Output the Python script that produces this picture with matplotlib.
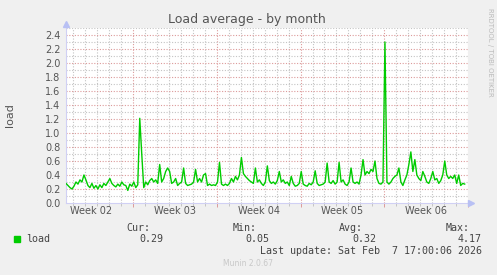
import matplotlib
matplotlib.use("Agg")
import matplotlib.pyplot as plt
from matplotlib.patches import Rectangle
import numpy as np

# load samples, one every 4 hours
load = [0.28, 0.25, 0.22, 0.20, 0.24, 0.30, 0.27, 0.33, 0.30, 0.40,
        0.33, 0.25, 0.22, 0.28, 0.21, 0.25, 0.20, 0.26, 0.22, 0.28,
        0.25, 0.30, 0.35, 0.28, 0.25, 0.23, 0.27, 0.24, 0.30, 0.26,
        0.25, 0.18, 0.27, 0.24, 0.30, 0.22, 0.26, 1.21, 0.70, 0.22,
        0.30, 0.26, 0.32, 0.35, 0.30, 0.33, 0.28, 0.55, 0.30, 0.35,
        0.45, 0.50, 0.45, 0.28, 0.30, 0.35, 0.25, 0.28, 0.30, 0.50,
        0.28, 0.25, 0.26, 0.27, 0.30, 0.48, 0.30, 0.35, 0.30, 0.40,
        0.42, 0.25, 0.27, 0.25, 0.26, 0.25, 0.30, 0.58, 0.27, 0.25,
        0.27, 0.25, 0.28, 0.35, 0.30, 0.38, 0.33, 0.40, 0.65, 0.42,
        0.38, 0.35, 0.32, 0.30, 0.28, 0.50, 0.30, 0.33, 0.28, 0.25,
        0.30, 0.53, 0.32, 0.28, 0.30, 0.27, 0.32, 0.45, 0.30, 0.33,
        0.28, 0.30, 0.25, 0.38, 0.28, 0.24, 0.25, 0.28, 0.45, 0.27,
        0.25, 0.24, 0.28, 0.26, 0.30, 0.46, 0.28, 0.25, 0.26, 0.27,
        0.30, 0.57, 0.30, 0.28, 0.32, 0.27, 0.30, 0.58, 0.30, 0.33,
        0.27, 0.25, 0.30, 0.50, 0.30, 0.28, 0.30, 0.27, 0.40, 0.62,
        0.40, 0.45, 0.42, 0.48, 0.45, 0.60, 0.35, 0.28, 0.27, 0.30,
        2.30, 0.30, 0.27, 0.30, 0.35, 0.38, 0.40, 0.50, 0.30, 0.25,
        0.33, 0.40, 0.55, 0.73, 0.45, 0.62, 0.40, 0.35, 0.32, 0.45,
        0.38, 0.30, 0.28, 0.35, 0.45, 0.33, 0.35, 0.28, 0.32, 0.40,
        0.60, 0.40, 0.35, 0.38, 0.35, 0.40, 0.28, 0.40, 0.25, 0.28,
        0.27]
days = np.arange(len(load)) / 6.0

week_labels = ["Week 02", "Week 03", "Week 04", "Week 05", "Week 06"]
first_week = 5.61   # first week boundary, days from left edge
y_ticks = [0.0, 0.2, 0.4, 0.6, 0.8, 1.0, 1.2, 1.4, 1.6, 1.8, 2.0, 2.2, 2.4]

legend_name = "load"
cur, vmin, avg, vmax = "0.29", "0.05", "0.32", "4.17"
last_update = "Last update: Sat Feb  7 17:00:06 2026"

W, H = 497, 275
fig = plt.figure(figsize=(W / 100, H / 100), dpi=100)
fig.patch.set_facecolor("#F0F0F0")
ax = fig.add_axes([66 / W, 72 / H, 402 / W, 175 / H])
ax.set_facecolor("white")

red = "#DC9A9A"
gray = "#C4C4C4"
axis_col = "#D0D0F4"
dots = (0, (1, 1.5))

ax.set_xlim(0, 33.5)
ax.set_ylim(0, 2.5)

# grid
week_pos = [first_week + 7 * k for k in range(5)]
day_pos = [first_week - 5 + d for d in range(34) if first_week - 5 + d < 33.5]
for d in day_pos:
    if not any(abs(d - w) < 0.01 for w in week_pos):
        ax.axvline(d, color=gray, lw=0.8, ls=dots, zorder=1)
for w in week_pos:
    ax.axvline(w, color=red, lw=0.8, ls=dots, zorder=1)
for v in np.arange(0.1, 2.55, 0.2):
    ax.axhline(v, color=gray, lw=0.8, ls=dots, zorder=1)
for v in y_ticks[1:]:
    ax.axhline(v, color=red, lw=0.8, ls=dots, zorder=1)

ax.plot(days, load, color="#00CC00", lw=1.0, zorder=3)

ax.set_yticks(y_ticks)
ax.set_yticklabels(["%.1f" % v for v in y_ticks], fontsize=7, color="#555555")
ax.tick_params(axis="y", length=0, pad=4)
ax.set_xticks(week_pos)
ax.set_xticklabels([])
ax.set_xticks(day_pos, minor=True)
ax.tick_params(axis="x", which="major", length=3, color=red, width=0.7)
ax.tick_params(axis="x", which="minor", length=2, color=gray, width=0.7)

for i, lab in enumerate(week_labels):
    ax.text(week_pos[i] - 3.5, -0.05, lab, fontsize=7, color="#555555",
            ha="center", va="top")

for s in ["top", "right"]:
    ax.spines[s].set_visible(False)
for s in ["left", "bottom"]:
    ax.spines[s].set_color(axis_col)
    ax.spines[s].set_linewidth(0.8)

# axis arrows
ax.plot([0], [1.025], marker="^", ms=4, color="#B8C0F4", transform=ax.transAxes,
        clip_on=False, zorder=5)
ax.plot([1.008], [0], marker=">", ms=4, color="#B8C0F4", transform=ax.transAxes,
        clip_on=False, zorder=5)

fig.text(247 / W, 1 - 19 / H, "Load average - by month", fontsize=9,
         color="#555555", ha="center", va="center")
fig.text(10 / W, 1 - 115 / H, "load", fontsize=8, color="#555555",
         rotation=90, ha="center", va="center")
fig.text(490 / W, 1 - 52 / H, "RRDTOOL / TOBI OETIKER", fontsize=5,
         color="#BBBBBB", rotation=270, ha="center", va="center")

# legend block
mono = "DejaVu Sans Mono"
fs = 7.2
tc = "#444444"
fig.patches.append(Rectangle((14 / W, 1 - 242 / H), 6 / W, 6 / H,
                             transform=fig.transFigure, color="#00CC00"))
fig.text(26 / W, 1 - 239 / H, legend_name, family=mono, fontsize=fs, color=tc,
         va="center")
for head, val, hx, vx in [("Cur:", cur, 150, 163), ("Min:", vmin, 257, 269),
                          ("Avg:", avg, 363, 376), ("Max:", vmax, 470, 482)]:
    fig.text(hx / W, 1 - 228 / H, head, family=mono, fontsize=fs, color=tc,
             ha="right", va="center")
    fig.text(vx / W, 1 - 239 / H, val, family=mono, fontsize=fs, color=tc,
             ha="right", va="center")
fig.text(482 / W, 1 - 251 / H, last_update, family=mono, fontsize=fs, color=tc,
         ha="right", va="center")
fig.text(248 / W, 1 - 264 / H, "Munin 2.0.67", fontsize=5.5, color="#C8C8C8",
         ha="center", va="center")

fig.savefig("out.png", dpi=100, facecolor=fig.get_facecolor())
